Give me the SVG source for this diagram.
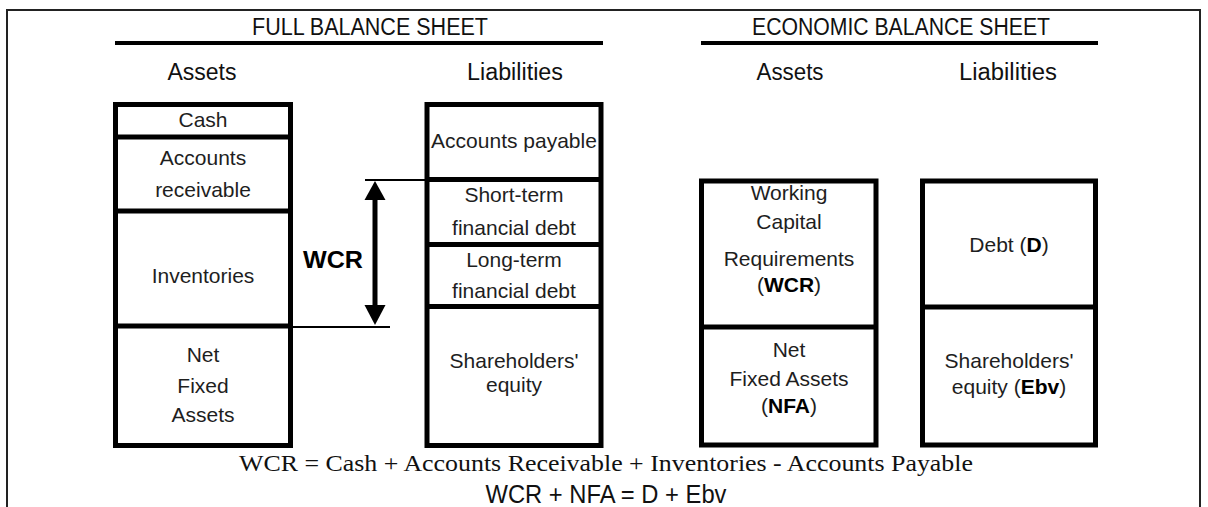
<svg xmlns="http://www.w3.org/2000/svg" width="1208" height="507" viewBox="0 0 1208 507">
  <style>
    .box { fill: #fff; stroke: #000; stroke-width: 5; }
    .div { stroke: #000; stroke-width: 5; }
    .t { font-family: "Liberation Sans", Arial, sans-serif; font-size: 21px; fill: #1e1e1e; text-anchor: middle; }
    .h { font-family: "Liberation Sans", Arial, sans-serif; font-size: 23px; fill: #111; text-anchor: middle; }
    .b { font-weight: bold; fill: #000; }
    .rule { stroke: #000; stroke-width: 4; }
    .thin { stroke: #000; stroke-width: 2; }
  </style>
  <rect width="1208" height="507" fill="#fff"/>
  <!-- frame -->
  <path d="M7 507 V10 H1200 V507" fill="none" stroke="#222" stroke-width="2"/>

  <g id="headers">
    <text class="h" x="370" y="35" font-size="25" textLength="236" lengthAdjust="spacingAndGlyphs">FULL BALANCE SHEET</text>
    <line class="rule" x1="115" y1="43" x2="603" y2="43"/>
    <text class="h" x="901" y="35" font-size="25" textLength="298" lengthAdjust="spacingAndGlyphs">ECONOMIC BALANCE SHEET</text>
    <line class="rule" x1="701" y1="43" x2="1098" y2="43"/>
    <text class="h" x="202" y="80" font-size="24" textLength="69" lengthAdjust="spacingAndGlyphs">Assets</text>
    <text class="h" x="515" y="80" font-size="24" textLength="96" lengthAdjust="spacingAndGlyphs">Liabilities</text>
    <text class="h" x="790" y="80" font-size="24" textLength="67" lengthAdjust="spacingAndGlyphs">Assets</text>
    <text class="h" x="1008" y="80" font-size="24" textLength="98" lengthAdjust="spacingAndGlyphs">Liabilities</text>
  </g>

  <g id="full-assets">
    <rect class="box" x="115.5" y="104.5" width="175" height="341"/>
    <line class="div" x1="115.5" y1="137" x2="290.5" y2="137"/>
    <line class="div" x1="115.5" y1="211" x2="290.5" y2="211"/>
    <line class="div" x1="115.5" y1="326" x2="290.5" y2="326"/>
    <text class="t" x="203" y="127">Cash</text>
    <text class="t" x="203" y="165">Accounts</text>
    <text class="t" x="203" y="197">receivable</text>
    <text class="t" x="203" y="283">Inventories</text>
    <text class="t" x="203" y="362">Net</text>
    <text class="t" x="203" y="393">Fixed</text>
    <text class="t" x="203" y="422">Assets</text>
  </g>

  <g id="full-liabilities">
    <rect class="box" x="427" y="104.5" width="174" height="341"/>
    <line class="div" x1="427" y1="179.5" x2="601" y2="179.5"/>
    <line class="div" x1="427" y1="244.5" x2="601" y2="244.5"/>
    <line class="div" x1="427" y1="306.5" x2="601" y2="306.5"/>
    <text class="t" x="514" y="148">Accounts payable</text>
    <text class="t" x="514" y="202">Short-term</text>
    <text class="t" x="514" y="235">financial debt</text>
    <text class="t" x="514" y="267">Long-term</text>
    <text class="t" x="514" y="298">financial debt</text>
    <text class="t" x="514" y="368">Shareholders'</text>
    <text class="t" x="514" y="392">equity</text>
  </g>

  <g id="econ-assets">
    <rect class="box" x="701.5" y="181" width="174.5" height="264"/>
    <line class="div" x1="701.5" y1="327" x2="876" y2="327"/>
    <text class="t" x="789" y="200">Working</text>
    <text class="t" x="789" y="229">Capital</text>
    <text class="t" x="789" y="266">Requirements</text>
    <text class="t" x="789" y="292">(<tspan class="b">WCR</tspan>)</text>
    <text class="t" x="789" y="357">Net</text>
    <text class="t" x="789" y="386">Fixed Assets</text>
    <text class="t" x="789" y="413">(<tspan class="b">NFA</tspan>)</text>
  </g>

  <g id="econ-liabilities">
    <rect class="box" x="922.5" y="181" width="173" height="264"/>
    <line class="div" x1="922.5" y1="307" x2="1095.5" y2="307"/>
    <text class="t" x="1009" y="252">Debt (<tspan class="b">D</tspan>)</text>
    <text class="t" x="1009" y="368">Shareholders'</text>
    <text class="t" x="1009" y="394">equity (<tspan class="b">Ebv</tspan>)</text>
  </g>

  <g id="connectors">
    <line class="thin" x1="365" y1="180" x2="427" y2="180"/>
    <line class="thin" x1="290" y1="327" x2="390" y2="327"/>
    <line x1="375" y1="198" x2="375" y2="307" stroke="#000" stroke-width="5"/>
    <polygon points="364.5,200 375,181 385.5,200" fill="#000"/>
    <polygon points="364.5,305 375,325 385.5,305" fill="#000"/>
  </g>

  <g id="wcr-label">
    <text class="h b" x="333" y="268" font-size="23" textLength="60" lengthAdjust="spacingAndGlyphs">WCR</text>
  </g>

  <g id="formulas">
    <text x="239" y="471" font-family="'Liberation Serif', 'Times New Roman', serif" font-size="23" fill="#111" textLength="734" lengthAdjust="spacingAndGlyphs">WCR = Cash + Accounts Receivable + Inventories - Accounts Payable</text>
    <text x="606" y="503" font-family="'Liberation Sans', Arial, sans-serif" font-size="25" fill="#111" text-anchor="middle" textLength="241" lengthAdjust="spacingAndGlyphs">WCR + NFA = D + Ebv</text>
  </g>
</svg>
